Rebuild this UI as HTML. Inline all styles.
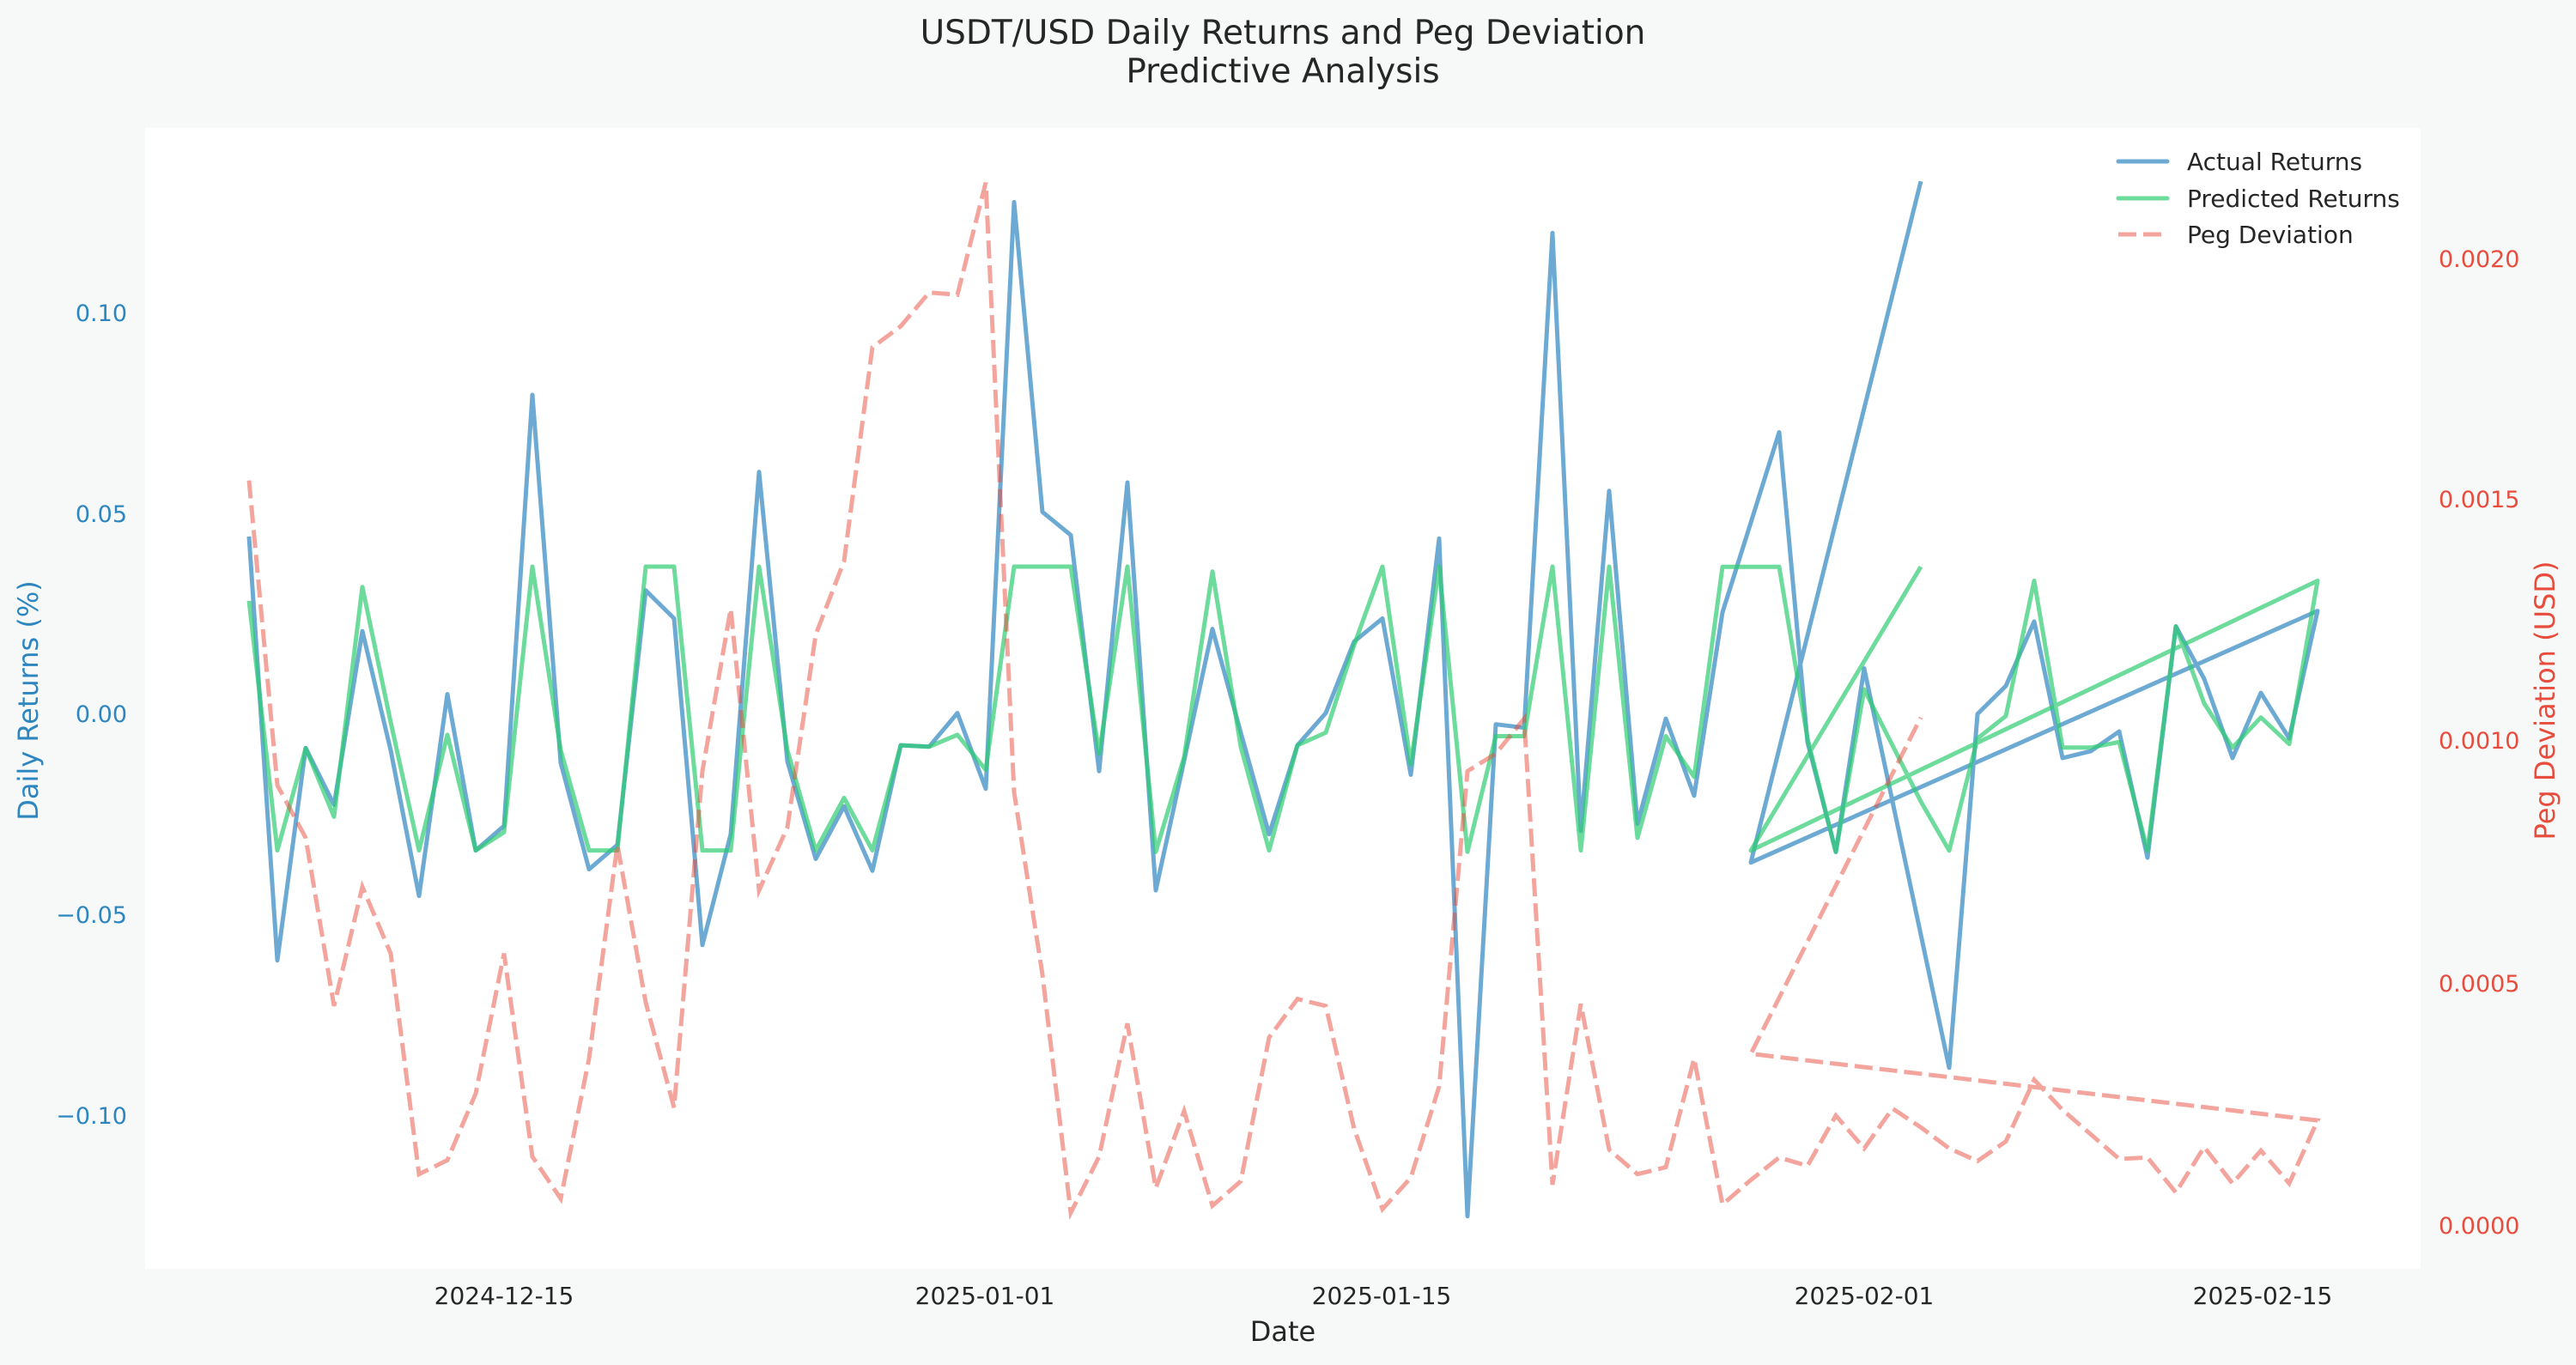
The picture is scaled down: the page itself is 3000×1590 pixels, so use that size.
<!DOCTYPE html>
<html><head><meta charset="utf-8"><style>
html,body{margin:0;padding:0;background:#f7f9f9;}
svg{display:block;}
text{font-family:"DejaVu Sans","Liberation Sans",sans-serif;}
</style></head><body>
<svg id="s" width="3000" height="1590" viewBox="0 0 3000 1590" xmlns="http://www.w3.org/2000/svg">
<rect x="0" y="0" width="3000" height="1590" fill="#f7f9f9"/>
<rect x="169" y="149" width="2650" height="1329" fill="#ffffff"/>
<text x="1494" y="51" font-size="39" fill="#262626" text-anchor="middle">USDT/USD Daily Returns and Peg Deviation</text>
<text x="1494" y="96" font-size="39" fill="#262626" text-anchor="middle">Predictive Analysis</text>
<g font-size="27" fill="#2e86c1" text-anchor="end">
<text x="148" y="374">0.10</text>
<text x="148" y="608">0.05</text>
<text x="148" y="841">0.00</text>
<text x="148" y="1075">−0.05</text>
<text x="148" y="1309">−0.10</text>
</g>
<text transform="translate(44,816) rotate(-90)" font-size="32" fill="#2e86c1" text-anchor="middle">Daily Returns (%)</text>
<g font-size="27" fill="#e74c3c" text-anchor="start">
<text x="2840" y="311">0.0020</text>
<text x="2840" y="591">0.0015</text>
<text x="2840" y="872">0.0010</text>
<text x="2840" y="1155">0.0005</text>
<text x="2840" y="1437">0.0000</text>
</g>
<text transform="translate(2975,816) rotate(-90)" font-size="32" fill="#e74c3c" text-anchor="middle">Peg Deviation (USD)</text>
<g font-size="28" fill="#262626" text-anchor="middle">
<text x="587" y="1519">2024-12-15</text>
<text x="1147" y="1519">2025-01-01</text>
<text x="1609" y="1519">2025-01-15</text>
<text x="2171" y="1519">2025-02-01</text>
<text x="2635" y="1519">2025-02-15</text>
</g>
<text x="1494" y="1562" font-size="32" fill="#262626" text-anchor="middle">Date</text>
<g id="lines"></g>
<g>
<line x1="2467" y1="188" x2="2524" y2="188" stroke="#2e86c1" stroke-opacity="0.7" stroke-width="5" stroke-linecap="round"/>
<line x1="2467" y1="231" x2="2524" y2="231" stroke="#2ecc71" stroke-opacity="0.7" stroke-width="5" stroke-linecap="round"/>
<line x1="2467" y1="273" x2="2524" y2="273" stroke="#e74c3c" stroke-opacity="0.5" stroke-width="5" stroke-dasharray="21,8"/>
<g font-size="28" fill="#262626">
<text x="2547" y="198">Actual Returns</text>
<text x="2547" y="241">Predicted Returns</text>
<text x="2547" y="283">Peg Deviation</text>
</g>
</g>
</svg>
<script>
(function(){
var k=0.8163;
function build(a,b,c,ex){
  var pts=[],i;
  for(i=0;i<a.length;i++)pts.push([290+33*i,180+a[i]*k]);
  for(i=0;i<b.length;i++)pts.push([290+33*(27+i),180+b[i]*k]);
  for(i=0;i<c.length;i++)pts.push([290+33*(52+i),150+c[i]*k]);
  pts.push([290+33*53,150+ex[0]*k]);
  pts.push([290+33*59,150+ex[1]*k]);
  return "M"+pts.map(function(p){return p[0].toFixed(1)+","+p[1].toFixed(1);}).join(" L");
}
var blue=build(
[545,1150,847,928,680,850,1058,770,993,958,343,868,1020,985,622,662,1128,970,453,866,1005,930,1022,843,845,797,905],
[68,510,543,880,468,1050,865,677,825,970,843,797,695,662,885,548,1515,813,818,112,965,480,955,805,915],
[690,562,433,875,1032,770,960,1150,1340,835,795,703,898,888,860,1040,710,785,898,805,870,688],[1047,75]);
var green=build(
[637,993,847,945,617,810,993,828,993,967,588,850,993,993,588,588,993,993,588,850,993,918,993,843,845,828,878],
[588,588,588,855,588,995,860,595,845,993,843,825,700,588,870,588,995,830,830,588,993,588,975,830,888],
[625,625,625,870,1032,800,880,960,1030,870,838,645,883,883,875,1030,710,820,883,840,878,645],[1030,625]);
var peg=build(
[465,900,975,1215,1045,1140,1455,1435,1340,1140,1430,1490,1290,985,1210,1360,880,648,1050,960,685,580,275,245,197,200,40],
[910,1170,1510,1430,1240,1475,1365,1500,1465,1260,1205,1215,1390,1505,1460,1330,880,855,805,1470,1212,1420,1455,1445,1290],
[1535,1500,1468,1480,1408,1455,1398,1425,1455,1473,1445,1357,1400,1435,1470,1468,1518,1453,1505,1458,1505,1415],[1320,840]);
var g=document.getElementById('lines');
g.innerHTML='<path d="'+blue+'" fill="none" stroke="#2e86c1" stroke-opacity="0.7" stroke-width="5" stroke-linejoin="round"/>'+
'<path d="'+green+'" fill="none" stroke="#2ecc71" stroke-opacity="0.7" stroke-width="5" stroke-linejoin="round"/>'+
'<path d="'+peg+'" fill="none" stroke="#e74c3c" stroke-opacity="0.5" stroke-width="5" stroke-dasharray="21,8"/>';
})();
</script>
</body></html>
